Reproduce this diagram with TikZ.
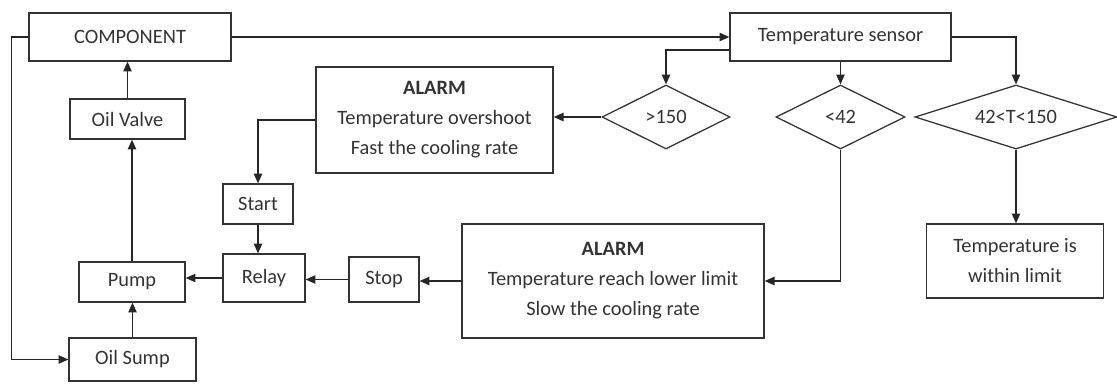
\documentclass[tikz,border=0pt]{standalone}
\usepackage{fontspec}
\setmainfont{Carlito}
\usetikzlibrary{arrows.meta, positioning, shapes.geometric}

\begin{document}
\begin{tikzpicture}[
    x=0.025cm, y=-0.025cm,
    block/.style={draw=black!80, rectangle, line width=0.9pt, align=center, inner sep=2pt, text=black!80, font=\fontsize{14.5}{21.3}\selectfont},
    check/.style={draw=black!80, diamond, line width=0.9pt, inner sep=0pt, shape aspect=#1, text=black!80, font=\fontsize{14.5}{17}\selectfont},
    check/.default=2,
    flow/.style={-{Triangle[length=7pt, width=6pt]}, line width=0.9pt, draw=black!85},
    wire/.style={line width=0.9pt, draw=black!85}
]
\useasboundingbox (0,0) rectangle (1117,383);

% --- Left column ---
\node[block, minimum width=5.05cm, minimum height=1.2cm]   (comp)  at (130, 37)    {COMPONENT};
\node[block, minimum width=2.875cm, minimum height=1.0cm]  (valve) at (127.5, 119) {Oil Valve};
\node[block, minimum width=2.65cm, minimum height=1.0cm]   (pump)  at (132, 282)   {Pump};
\node[block, minimum width=3.175cm, minimum height=1.075cm] (sump) at (132.5, 359.5) {Oil Sump};

% --- Switching ---
\node[block, minimum width=1.75cm, minimum height=1.0cm]   (start) at (258, 204)   {Start};
\node[block, minimum width=2.05cm, minimum height=1.2cm]   (relay) at (264, 278)   {Relay};
\node[block, minimum width=1.75cm, minimum height=1.125cm] (stop)  at (384, 279.5) {Stop};

% --- Alarms ---
\node[block, minimum width=5.925cm, minimum height=2.65cm] (alarmhigh) at (434.5, 120)
    {\textbf{ALARM}\\Temperature overshoot\\Fast the cooling rate};
\node[block, minimum width=7.55cm, minimum height=2.85cm]  (alarmlow)  at (613, 281)
    {\textbf{ALARM}\\Temperature reach lower limit\\Slow the cooling rate};

% --- Sensor and checks ---
\node[block, minimum width=5.525cm, minimum height=1.2cm]  (sensor) at (840.5, 37) {Temperature sensor};
\node[check, minimum width=3.2cm, minimum height=1.6cm]    (high)   at (666, 117)   {>150};
\node[check, minimum width=3.225cm, minimum height=1.6cm]  (low)    at (840.5, 117) {<42};
\node[check=3.16, minimum width=5.05cm, minimum height=1.6cm] (mid) at (1016, 117)  {42<T<150};
\node[block, minimum width=4.425cm, minimum height=1.85cm] (within) at (1015, 261)
    {Temperature is\\within limit};

% --- Oil loop ---
\draw[flow] (comp.west) -- ++(-17, 0) |- (sump.west);
\draw[flow] (sump.north) -- (sump.north |- pump.south);
\draw[flow] (pump.north) -- (pump.north |- valve.south);
\draw[flow] (valve.north) -- (valve.north |- comp.south);
\draw[flow] (comp.east) -- (sensor.west);

% --- Sensor branches ---
\draw[flow] ([yshift=-0.325cm]sensor.west) -| (high.north);
\draw[flow] (sensor.south) -- (low.north);
\draw[flow] (sensor.east) -| (mid.north);

% --- Overshoot path ---
\draw[flow] (high.west) -- (high.west -| alarmhigh.east);
\draw[flow] (alarmhigh.west) -| (start.north);
\draw[flow] (start.south) -- (start.south |- relay.north);
\draw[flow] (relay.west) -- (relay.west -| pump.east);

% --- Lower limit path ---
\draw[flow] (low.south) |- (alarmlow.east);
\draw[flow] (alarmlow.west) -- (alarmlow.west -| stop.east);
\draw[flow] (stop.west) -- (stop.west -| relay.east);

% --- Within limit ---
\draw[flow] (mid.south) -- (mid.south |- within.north);

\end{tikzpicture}
\end{document}
